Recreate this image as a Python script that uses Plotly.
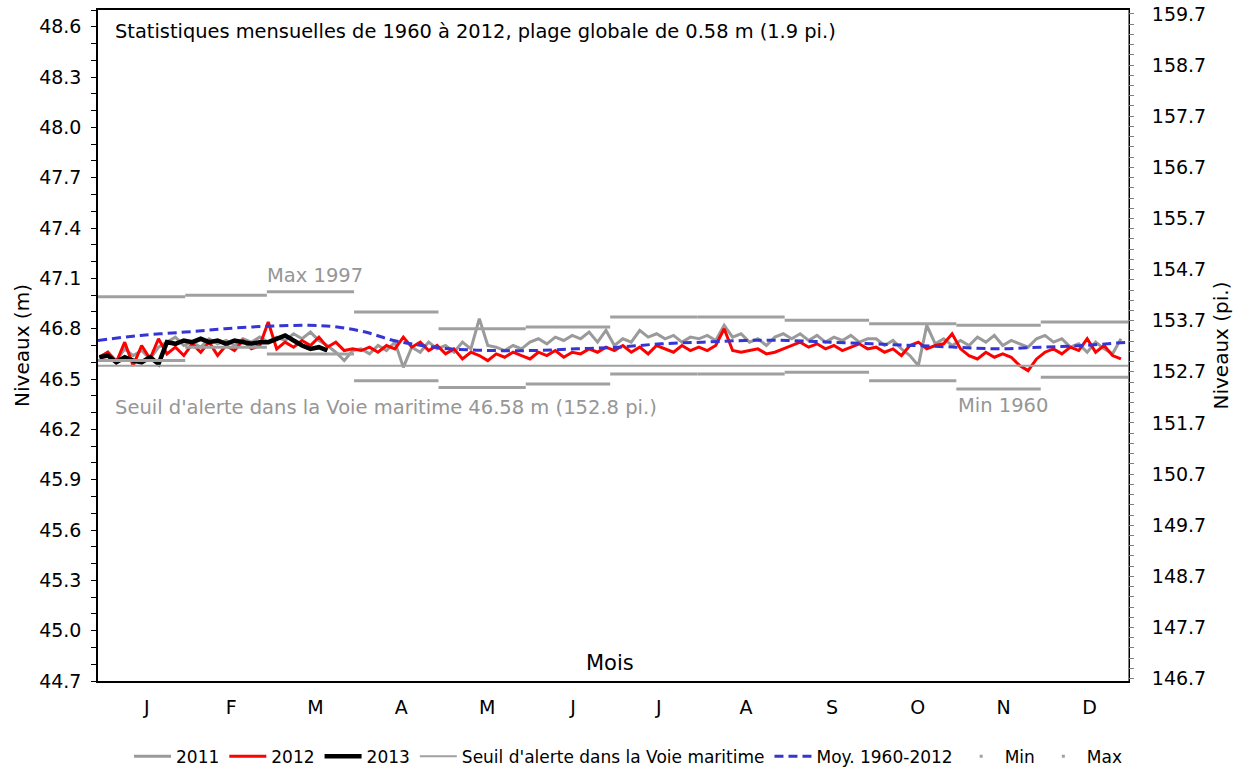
import plotly.graph_objects as go

# ---------------- data ----------------
month_labels = ["J", "F", "M", "A", "M", "J", "J", "A", "S", "O", "N", "D"]
month_starts = [0, 31, 60, 91, 121, 152, 182, 213, 244, 274, 305, 335, 366]

max_vals = [46.99, 47.00, 47.02, 46.90, 46.80, 46.81, 46.87, 46.87, 46.85, 46.83, 46.82, 46.84]
min_vals = [46.61, 46.69, 46.65, 46.49, 46.45, 46.47, 46.53, 46.53, 46.54, 46.49, 46.44, 46.51]
seuil = 46.58

days = list(range(0, 366, 3))  # sampling days for 2011 / 2012

y2011 = [
    46.63, 46.66, 46.61, 46.68, 46.64, 46.67, 46.62, 46.69, 46.72, 46.75, 46.70,
    46.72, 46.69, 46.74, 46.71, 46.73, 46.70, 46.74, 46.72, 46.75,
    46.72, 46.75, 46.73, 46.77, 46.74, 46.78, 46.73, 46.70, 46.66, 46.61, 46.67,
    46.68, 46.65, 46.70, 46.67, 46.72, 46.57, 46.69, 46.66, 46.72, 46.68,
    46.70, 46.66, 46.72, 46.68, 46.86, 46.70, 46.69, 46.67, 46.70, 46.68,
    46.72, 46.74, 46.71, 46.75, 46.73, 46.76, 46.74, 46.78, 46.72, 46.79,
    46.70, 46.74, 46.72, 46.79, 46.75, 46.77, 46.74, 46.76, 46.72, 46.75,
    46.74, 46.76, 46.73, 46.82, 46.75, 46.77, 46.72, 46.74, 46.70, 46.75, 46.77,
    46.74, 46.77, 46.73, 46.76, 46.72, 46.75, 46.73, 46.76, 46.72, 46.74,
    46.74, 46.70, 46.73, 46.68, 46.64, 46.58, 46.82, 46.71, 46.74, 46.70,
    46.73, 46.70, 46.75, 46.72, 46.76, 46.70, 46.73, 46.71, 46.69, 46.74,
    46.76, 46.72, 46.74, 46.69, 46.71, 46.66, 46.72, 46.68, 46.65, 46.74,
]

y2012 = [
    46.63, 46.66, 46.60, 46.72, 46.58, 46.70, 46.62, 46.74, 46.65, 46.69, 46.64,
    46.71, 46.66, 46.72, 46.64, 46.70, 46.67, 46.73, 46.68, 46.70,
    46.84, 46.68, 46.72, 46.69, 46.73, 46.70, 46.75, 46.69, 46.72, 46.67, 46.68,
    46.67, 46.69, 46.66, 46.70, 46.68, 46.75, 46.69, 46.72, 46.67, 46.70,
    46.65, 46.68, 46.62, 46.66, 46.64, 46.61, 46.65, 46.63, 46.66, 46.64,
    46.62, 46.66, 46.64, 46.67, 46.63, 46.66, 46.65, 46.68, 46.66, 46.69,
    46.67, 46.70, 46.66, 46.69, 46.65, 46.70, 46.68, 46.66, 46.70, 46.67,
    46.69, 46.67, 46.70, 46.80, 46.67, 46.66, 46.67, 46.68, 46.65, 46.66, 46.68,
    46.70, 46.72, 46.69, 46.71, 46.68, 46.70, 46.67, 46.69, 46.71, 46.68,
    46.69, 46.66, 46.68, 46.64, 46.70, 46.72, 46.68, 46.70, 46.71, 46.77,
    46.68, 46.64, 46.62, 46.66, 46.63, 46.65, 46.63, 46.58, 46.55, 46.62,
    46.66, 46.68, 46.65, 46.69, 46.67, 46.74, 46.66, 46.70, 46.64, 46.62,
]

days_2013 = [0, 3, 6, 9, 12, 15, 18, 21, 24, 27, 30, 33, 36, 39, 42, 45, 48, 51,
             54, 57, 60, 63, 66, 69, 72, 75, 78, 81]
y2013 = [46.63, 46.64, 46.60, 46.63, 46.61, 46.60, 46.63, 46.59, 46.72, 46.71,
         46.73, 46.72, 46.74, 46.72, 46.73, 46.71, 46.73, 46.72, 46.71, 46.72,
         46.72, 46.74, 46.76, 46.73, 46.70, 46.68, 46.69, 46.67]

days_mean = [0, 15, 31, 45, 60, 75, 85, 95, 105, 115, 125, 140, 155, 170, 185,
             200, 215, 230, 245, 260, 275, 290, 305, 320, 335, 350, 366]
y_mean = [46.73, 46.76, 46.78, 46.80, 46.815, 46.82, 46.81, 46.78, 46.73, 46.70,
          46.68, 46.67, 46.67, 46.68, 46.69, 46.71, 46.72, 46.73, 46.73, 46.72,
          46.71, 46.70, 46.69, 46.68, 46.69, 46.70, 46.72]

M_TO_FT = 3.28084
Y_MIN, Y_MAX = 44.7, 48.7

# ---------------- styling ----------------
FONT = "DejaVu Sans, Liberation Sans, Arial, sans-serif"
GREY = "#A0A0A0"

fig = go.Figure()

def step_xy(vals):
    xs, ys = [], []
    for i, v in enumerate(vals):
        xs += [month_starts[i], month_starts[i + 1], None]
        ys += [v, v, None]
    return xs, ys

fig.add_trace(go.Scatter(x=[d + 0.5 for d in days], y=y2011, mode="lines", name="2011",
                         line=dict(color="#9A9A9A", width=3)))
fig.add_trace(go.Scatter(x=[d + 0.5 for d in days], y=y2012, mode="lines", name="2012",
                         line=dict(color="#FF0000", width=3)))
fig.add_trace(go.Scatter(x=[d + 0.5 for d in days_2013], y=y2013, mode="lines", name="2013",
                         line=dict(color="#000000", width=4.5)))
fig.add_trace(go.Scatter(x=[month_starts[0], month_starts[-1]], y=[seuil, seuil], mode="lines",
                         name="Seuil d'alerte dans la Voie maritime",
                         line=dict(color=GREY, width=2)))
fig.add_trace(go.Scatter(x=days_mean, y=y_mean, mode="lines", name="Moy. 1960-2012",
                         line=dict(color="#3535D5", width=3, dash="9px,5px", shape="spline")))
mx, my = step_xy(min_vals)
fig.add_trace(go.Scatter(x=mx, y=my, mode="lines", showlegend=False, name="Min",
                         line=dict(color=GREY, width=3)))
Mx, My = step_xy(max_vals)
fig.add_trace(go.Scatter(x=Mx, y=My, mode="lines", showlegend=False, name="Max",
                         line=dict(color=GREY, width=3)))
# legend entries for Min / Max (tiny marker as in reference)
fig.add_trace(go.Scatter(x=[None], y=[None], mode="markers", name="Min",
                         marker=dict(color=GREY, size=3, symbol="square")))
fig.add_trace(go.Scatter(x=[None], y=[None], mode="markers", name="Max",
                         marker=dict(color=GREY, size=3, symbol="square")))
# invisible trace to activate the secondary (feet) axis
fig.add_trace(go.Scatter(x=[month_starts[0], month_starts[-1]], y=[seuil * M_TO_FT] * 2,
                         yaxis="y2", mode="lines", line=dict(width=0, color="rgba(0,0,0,0)"),
                         showlegend=False, hoverinfo="skip"))

tickvals = [(month_starts[i] + month_starts[i + 1]) / 2 + 1.8 for i in range(12)]

fig.update_layout(
    width=1244, height=772,
    margin=dict(l=98, r=116, t=10, b=91, autoexpand=False),
    paper_bgcolor="white", plot_bgcolor="white",
    font=dict(family=FONT, color="#000000", size=17),
    showlegend=True,
    legend=dict(orientation="h", x=0.5146, xanchor="center", y=-0.113, yanchor="middle",
                font=dict(size=17), bgcolor="rgba(0,0,0,0)", traceorder="normal",
                itemwidth=37),
    xaxis=dict(range=[0, 366], tickmode="array", tickvals=tickvals, ticktext=month_labels,
               ticks="", showgrid=False, zeroline=False, showline=True, linecolor="#000000",
               linewidth=1.5, mirror=True, tickfont=dict(size=19), ticklabelstandoff=8,
               automargin=False),
    yaxis=dict(range=[Y_MIN, Y_MAX], tick0=44.7, dtick=0.3, tickformat=".1f",
               ticks="outside", ticklen=5, tickcolor="#000000", showgrid=False, zeroline=False,
               showline=True, linecolor="#000000", linewidth=1.5, mirror=True,
               tickfont=dict(size=19), ticklabelstandoff=6, automargin=False,
               minor=dict(dtick=0.1, tick0=44.7, ticks="outside", ticklen=5, tickcolor="#000000"),
               title=dict(text="Niveaux (m)", font=dict(size=20), standoff=4)),
    yaxis2=dict(range=[Y_MIN * M_TO_FT, Y_MAX * M_TO_FT], overlaying="y", side="right",
                tick0=146.7, dtick=1, tickformat=".1f", ticks="outside", ticklen=5,
                tickcolor="#808080", showgrid=False, zeroline=False, showline=True,
                linecolor="#808080", linewidth=1, tickfont=dict(size=19), ticklabelstandoff=14,
                automargin=False,
                minor=dict(dtick=0.2, tick0=146.7, ticks="outside", ticklen=5, tickcolor="#808080"),
                title=dict(text="Niveaux (pi.)", font=dict(size=20), standoff=8)),
    annotations=[
        dict(text="Statistiques mensuelles de 1960 à 2012, plage globale de 0.58 m (1.9 pi.)",
             xref="paper", yref="paper", x=0.0146, y=0.9687, xanchor="left", yanchor="middle",
             showarrow=False, font=dict(size=19.4, color="#000000")),
        dict(text="Max 1997", xref="paper", yref="paper", x=0.2102, y=0.6036,
             xanchor="center", yanchor="middle", showarrow=False,
             font=dict(size=19.5, color="#969696")),
        dict(text="Seuil d'alerte dans la Voie maritime 46.58 m (152.8 pi.)", xref="paper",
             yref="paper", x=0.0146, y=0.4069, xanchor="left", yanchor="middle",
             showarrow=False, font=dict(size=19.5, color="#969696")),
        dict(text="Min 1960", xref="paper", yref="paper", x=0.8786, y=0.4113,
             xanchor="center", yanchor="middle", showarrow=False,
             font=dict(size=19.5, color="#969696")),
        dict(text="Mois", xref="paper", yref="paper", x=0.497, y=0.0268,
             xanchor="center", yanchor="middle", showarrow=False,
             font=dict(size=21, color="#000000")),
    ],
)

fig.write_html("out.html")
